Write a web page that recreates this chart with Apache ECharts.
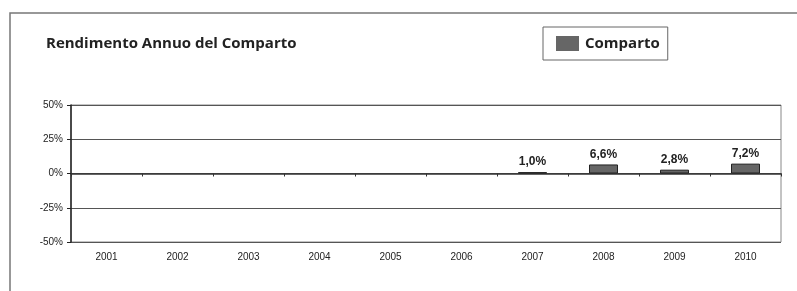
<!DOCTYPE html>
<html>
<head>
<meta charset="utf-8">
<script src="https://cdn.jsdelivr.net/npm/echarts@6/dist/echarts.min.js"></script>
<style>
    html, body { margin: 0; padding: 0; background: #fff; }
    #chart { width: 797px; height: 291px; }
</style>
</head>
<body>
<div id="chart"></div>
<script>
// dati del grafico
const years = ['2001', '2002', '2003', '2004', '2005', '2006', '2007', '2008', '2009', '2010'];
const comparto = [null, null, null, null, null, null, 1.0, 6.6, 2.8, 7.2];
const yTicks = { min: -50, max: 50, interval: 25 };

const chart = echarts.init(document.getElementById('chart'));

chart.setOption({
    animation: false,
    title: {
        text: 'Rendimento Annuo del Comparto',
        left: 41,
        top: 31,
        textStyle: { fontFamily: 'Open Sans', fontSize: 15, fontWeight: 'bold', color: '#222' }
    },
    legend: {
        data: ['Comparto'],
        left: 543,
        top: 27,
        icon: 'rect',
        itemWidth: 23,
        itemHeight: 15,
        itemGap: 0,
        padding: [9, 8, 9, 13],
        borderColor: '#666',
        borderWidth: 1,
        itemStyle: { borderWidth: 0, color: '#666' },
        textStyle: { fontFamily: 'Open Sans', fontSize: 15, fontWeight: 'bold', color: '#222', padding: [0, 0, 0, 1] }
    },
    // cornice esterna
    graphic: [{
        type: 'polyline',
        shape: { points: [[10, 291], [10, 13], [797, 13]] },
        style: { stroke: '#777', lineWidth: 1.5, fill: null }
    }],
    grid: {
        left: 71,
        right: 16,
        top: 105,
        bottom: 49,
        show: true,
        borderColor: '#888',
        borderWidth: 1
    },
    xAxis: [{
        type: 'category',
        data: years,
        axisLine: { onZero: true, lineStyle: { color: '#333', width: 1.5 } },
        axisTick: { show: true, length: 3, lineStyle: { color: '#333' } },
        axisLabel: { show: false }
    }, {
        type: 'category',
        data: years,
        position: 'bottom',
        axisLine: { show: false },
        axisTick: { show: false },
        axisLabel: { margin: 10, fontFamily: 'Liberation Sans', fontSize: 10, color: '#222' }
    }],
    yAxis: {
        type: 'value',
        min: yTicks.min,
        max: yTicks.max,
        interval: yTicks.interval,
        axisLine: { show: true, lineStyle: { color: '#222', width: 1.5 } },
        axisTick: { show: true, length: 4, lineStyle: { color: '#222' } },
        splitLine: { show: true, lineStyle: { color: '#555', width: 1 } },
        axisLabel: {
            margin: 8,
            fontFamily: 'Liberation Sans',
            fontSize: 10,
            color: '#222',
            formatter: v => v + '%'
        }
    },
    series: [{
        name: 'Comparto',
        type: 'bar',
        data: comparto,
        barWidth: 29,
        itemStyle: { color: '#666', borderColor: '#222', borderWidth: 1 },
        label: {
            show: true,
            position: 'top',
            distance: 4,
            fontFamily: 'Liberation Sans',
            fontSize: 12,
            fontWeight: 'bold',
            color: '#222',
            formatter: p => p.value.toFixed(1).replace('.', ',') + '%'
        }
    }]
});
</script>
</body>
</html>
